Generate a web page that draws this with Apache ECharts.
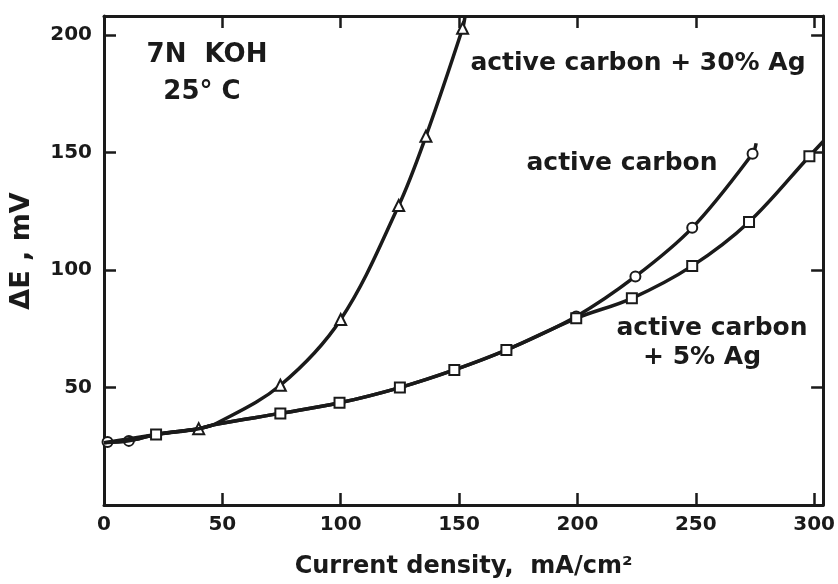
<!DOCTYPE html>
<html>
<head>
<meta charset="utf-8">
<script src="https://cdn.jsdelivr.net/npm/echarts@6/dist/echarts.min.js"></script>
<style>
  html, body { margin: 0; padding: 0; background: #fff; }
  #chart { width: 838px; height: 584px; }
</style>
</head>
<body>
<div id="chart"></div>
<script>
// ---- data ----
const xTitle = 'Current density,  mA/cm\u00B2';
const yTitle = '\u0394E , mV';
const condLine1 = '7N  KOH';
const condLine2 = '25\u00B0 C';

const acName = 'active carbon';
const acX = [0, 1.5, 10.5, 22, 40, 48, 74.5, 99.5, 125, 148, 170, 199.5, 224.5, 248.5, 274, 275.5];
const acY = [26.5, 26.8, 27.3, 30, 32.5, 34.5, 39, 43.5, 50, 57.5, 66, 80.3, 97.3, 118, 149.6, 154];
const acMarked = [1, 2, 11, 12, 13, 14];

const ag5Name = 'active carbon + 5% Ag';
const ag5X = [0, 10.5, 22, 40, 48, 74.5, 99.5, 125, 148, 170, 199.5, 223, 248.5, 272.5, 298, 304];
const ag5Y = [26.5, 27.3, 30, 32.5, 34.5, 39, 43.5, 50, 57.5, 66, 79.5, 88, 101.8, 120.5, 148.5, 155];
const ag5Marked = [2, 5, 6, 7, 8, 9, 10, 11, 12, 13, 14];

const ag30Name = 'active carbon + 30% Ag';
const ag30X = [0, 22, 40, 48, 74.5, 100, 124.5, 136, 151.5, 152.5];
const ag30Y = [26.5, 30, 32.5, 35, 51, 79, 127.5, 157, 203, 208];
const ag30Marked = [2, 4, 5, 6, 7, 8];

const xTicks = [0, 50, 100, 150, 200, 250, 300];
const yTicks = [50, 100, 150, 200];

// ---- chart ----
const chart = echarts.init(document.getElementById('chart'), null, { renderer: 'canvas' });
const FONT = '"DejaVu Sans", "Liberation Sans", sans-serif';
const INK = '#1a1a1a';
const XMAX = 303.8, YMAX = 208.2;

function pairs(xs, ys) { return xs.map((x, i) => [x, ys[i]]); }
function lineSeries(name, xs, ys, marked, shape, size, z) {
  return {
    name, type: 'line', xAxisIndex: 0, yAxisIndex: 0,
    data: pairs(xs, ys),
    smooth: 0.35,
    showAllSymbol: true,
    symbol: (v, p) => marked.includes(p.dataIndex) ? shape : 'none',
    symbolSize: size,
    lineStyle: { color: INK, width: 3.5 },
    itemStyle: { color: '#fff', borderColor: INK, borderWidth: 2 },
    z: z,
    animation: false
  };
}

const baseAxisLine = { show: true, onZero: false, lineStyle: { color: INK, width: 3 } };
const baseTick = { show: true, inside: true, length: 12, lineStyle: { color: INK, width: 2.5 } };

chart.setOption({
  backgroundColor: '#fff',
  animation: false,
  grid: { left: 104, right: 14, top: 16, bottom: 78, containLabel: false },
  xAxis: [
    {
      type: 'value', min: 0, max: XMAX, interval: 50, position: 'bottom',
      axisLine: baseAxisLine, axisTick: baseTick, splitLine: { show: false },
      axisLabel: {
        showMaxLabel: false, margin: 10, color: INK,
        fontFamily: FONT, fontWeight: 'bold', fontSize: 20,
        formatter: v => xTicks.includes(v) ? String(v) : ''
      },
      name: xTitle, nameLocation: 'middle', nameGap: 50,
      nameTextStyle: { fontFamily: FONT, fontWeight: 'bold', fontSize: 24, color: INK }
    },
    {
      type: 'value', min: 0, max: XMAX, interval: 50, position: 'top',
      axisLine: baseAxisLine, axisTick: baseTick, splitLine: { show: false },
      axisLabel: { show: false }
    }
  ],
  yAxis: [
    {
      type: 'value', min: 0, max: YMAX, interval: 50, position: 'left',
      axisLine: baseAxisLine, axisTick: baseTick, splitLine: { show: false },
      axisLabel: {
        showMinLabel: false, showMaxLabel: false, margin: 12, color: INK,
        fontFamily: FONT, fontWeight: 'bold', fontSize: 20,
        formatter: v => yTicks.includes(v) ? String(v) : ''
      }
    },
    {
      type: 'value', min: 0, max: YMAX, interval: 50, position: 'right',
      axisLine: baseAxisLine, axisTick: baseTick, splitLine: { show: false },
      axisLabel: { show: false }
    }
  ],
  series: [
    lineSeries(acName, acX, acY, acMarked, 'circle', 10, 3),
    lineSeries(ag30Name, ag30X, ag30Y, ag30Marked, 'triangle', 11, 4),
    lineSeries(ag5Name, ag5X, ag5Y, ag5Marked, 'rect', 10, 5)
  ],
  graphic: [
    { type: 'text', x: 207, y: 55, style: { text: condLine1, fill: INK, font: 'bold 26px ' + FONT, textAlign: 'center', textVerticalAlign: 'middle' } },
    { type: 'text', x: 202, y: 92, style: { text: condLine2, fill: INK, font: 'bold 26px ' + FONT, textAlign: 'center', textVerticalAlign: 'middle' } },
    { type: 'text', x: 638, y: 63, style: { text: ag30Name, fill: INK, font: 'bold 25px ' + FONT, textAlign: 'center', textVerticalAlign: 'middle' } },
    { type: 'text', x: 622, y: 163, style: { text: acName, fill: INK, font: 'bold 25px ' + FONT, textAlign: 'center', textVerticalAlign: 'middle' } },
    { type: 'text', x: 712, y: 328, style: { text: 'active carbon', fill: INK, font: 'bold 25px ' + FONT, textAlign: 'center', textVerticalAlign: 'middle' } },
    { type: 'text', x: 702, y: 357, style: { text: '+ 5% Ag', fill: INK, font: 'bold 25px ' + FONT, textAlign: 'center', textVerticalAlign: 'middle' } },
    { type: 'text', x: 22, y: 251, rotation: Math.PI / 2, style: { text: yTitle, fill: INK, font: 'bold 27px ' + FONT, textAlign: 'center', textVerticalAlign: 'middle' } }
  ]
});
</script>
</body>
</html>
